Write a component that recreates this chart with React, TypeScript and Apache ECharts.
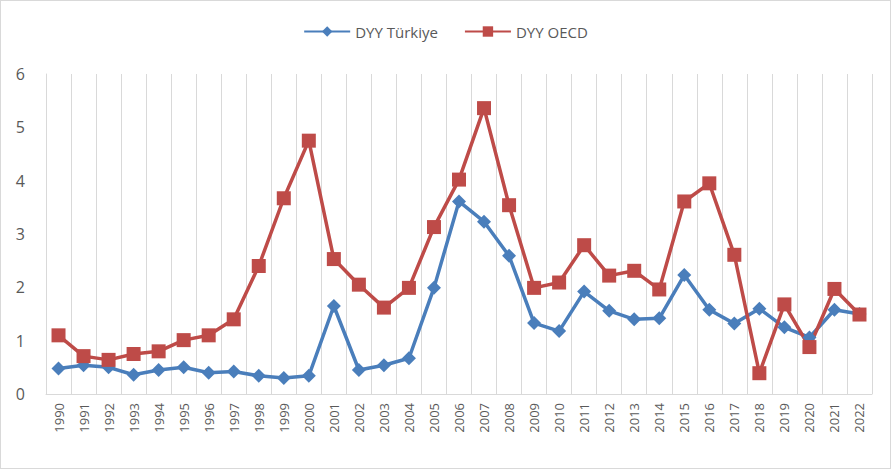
import React, { useEffect, useRef } from "react";
import * as echarts from "echarts";

const years = [
  "1990", "1991", "1992", "1993", "1994", "1995", "1996", "1997", "1998", "1999",
  "2000", "2001", "2002", "2003", "2004", "2005", "2006", "2007", "2008", "2009",
  "2010", "2011", "2012", "2013", "2014", "2015", "2016", "2017", "2018", "2019",
  "2020", "2021", "2022",
];

const turkiye = [
  0.48, 0.54, 0.5, 0.36, 0.45, 0.5, 0.4, 0.42, 0.34, 0.3,
  0.34, 1.65, 0.45, 0.54, 0.67, 1.99, 3.61, 3.23, 2.59, 1.33,
  1.18, 1.92, 1.56, 1.4, 1.42, 2.23, 1.58, 1.32, 1.6, 1.25,
  1.06, 1.58, 1.5,
];

const oecd = [
  1.1, 0.71, 0.64, 0.75, 0.8, 1.01, 1.1, 1.4, 2.4, 3.67,
  4.75, 2.53, 2.05, 1.62, 1.99, 3.13, 4.02, 5.36, 3.54, 1.99,
  2.09, 2.79, 2.22, 2.31, 1.96, 3.61, 3.95, 2.61, 0.39, 1.68,
  0.88, 1.97, 1.49,
];

const seriesNames = ["DYY Türkiye", "DYY OECD"];
const yTicks = [0, 1, 2, 3, 4, 5, 6];

export default function App() {
  const ref = useRef<HTMLDivElement>(null);
  useEffect(() => {
    document.body.style.margin = "0";
    const chart = echarts.init(ref.current!, null, { renderer: "svg" });
    chart.setOption({
      animation: false,
      backgroundColor: "#ffffff",
      textStyle: { fontFamily: "'Open Sans', 'Noto Sans', sans-serif" },
      legend: {
        top: 18,
        left: "center",
        itemWidth: 46,
        itemHeight: 13,
        itemGap: 26,
        textStyle: { color: "#595959", fontSize: 15 },
        data: seriesNames,
      },
      grid: { left: 45, right: 18, top: 73, bottom: 74, containLabel: false },
      xAxis: {
        type: "category",
        data: years,
        boundaryGap: true,
        axisLine: { show: true, lineStyle: { color: "#d9d9d9", width: 1 } },
        axisTick: { show: false },
        splitLine: { show: true, interval: 0, lineStyle: { color: "#d9d9d9", width: 1 } },
        axisLabel: {
          interval: 0,
          rotate: 90,
          color: "#595959",
          fontSize: 13,
          margin: 9,
        },
      },
      yAxis: {
        type: "value",
        min: yTicks[0],
        max: yTicks[yTicks.length - 1],
        interval: 1,
        axisLine: { show: true, lineStyle: { color: "#d9d9d9" } },
        axisTick: { show: false },
        splitLine: { show: false },
        axisLabel: { color: "#595959", fontSize: 16, margin: 21 },
      },
      series: [
        {
          name: seriesNames[0],
          type: "line",
          data: turkiye,
          symbol: "diamond",
          symbolSize: 14,
          itemStyle: { color: "#4A7EBB" },
          lineStyle: { color: "#4A7EBB", width: 3.5 },
        },
        {
          name: seriesNames[1],
          type: "line",
          data: oecd,
          symbol: "rect",
          symbolSize: 14,
          itemStyle: { color: "#BE4B48" },
          lineStyle: { color: "#BE4B48", width: 3.5 },
        },
      ],
    });
    return () => chart.dispose();
  }, []);
  return (
    <div
      ref={ref}
      style={{
        width: 891,
        height: 469,
        boxSizing: "border-box",
        border: "1px solid #d9d9d9",
      }}
    />
  );
}
